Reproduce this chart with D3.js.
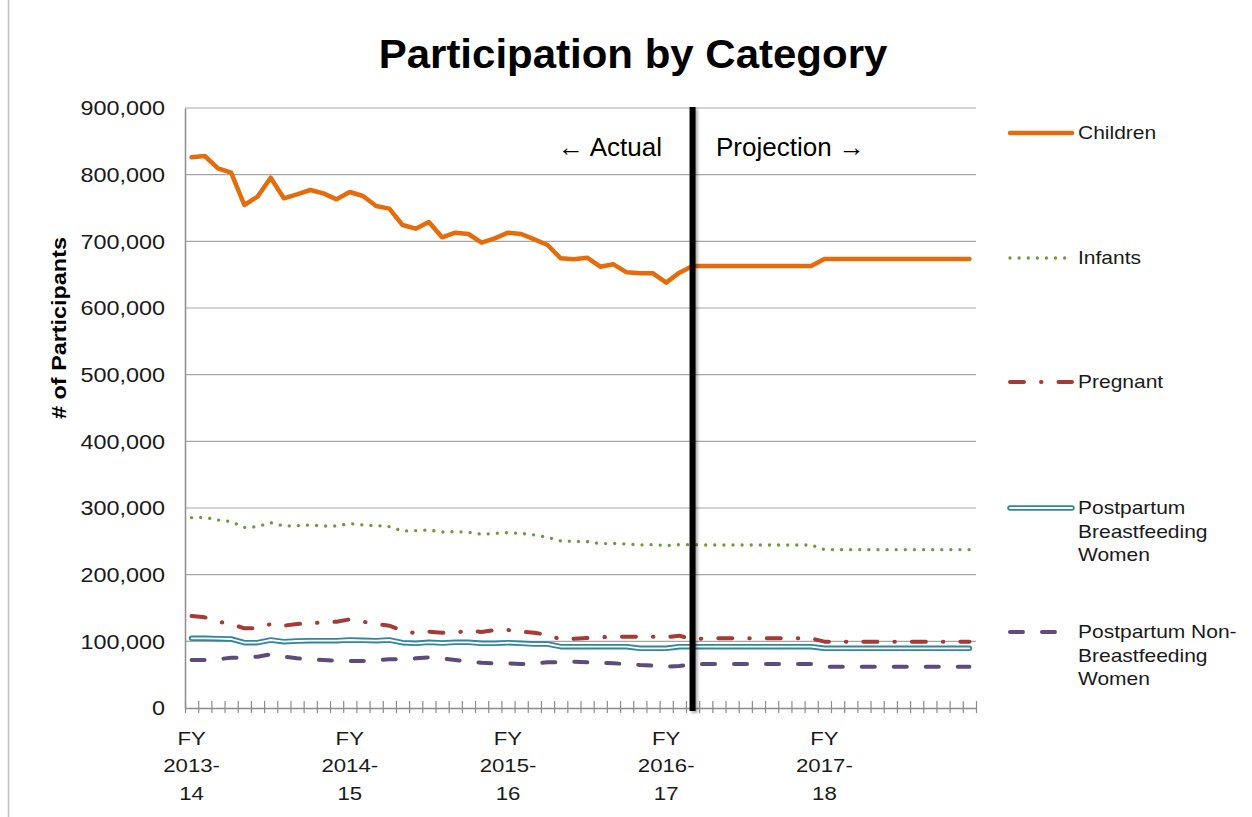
<!DOCTYPE html>
<html><head><meta charset="utf-8">
<script src="https://cdn.jsdelivr.net/npm/d3@7"></script>
<style>
body{margin:0;background:#fff}
svg{display:block}
text{font-family:"Liberation Sans",Arial,Helvetica,sans-serif}
</style>
</head><body>
<svg id="c" width="1252" height="817"></svg>
<script>
// ---------------- data ----------------
const categories = [
 "Jul-13","Aug-13","Sep-13","Oct-13","Nov-13","Dec-13","Jan-14","Feb-14","Mar-14","Apr-14","May-14","Jun-14",
 "Jul-14","Aug-14","Sep-14","Oct-14","Nov-14","Dec-14","Jan-15","Feb-15","Mar-15","Apr-15","May-15","Jun-15",
 "Jul-15","Aug-15","Sep-15","Oct-15","Nov-15","Dec-15","Jan-16","Feb-16","Mar-16","Apr-16","May-16","Jun-16",
 "Jul-16","Aug-16","Sep-16","Oct-16","Nov-16","Dec-16","Jan-17","Feb-17","Mar-17","Apr-17","May-17","Jun-17",
 "Jul-17","Aug-17","Sep-17","Oct-17","Nov-17","Dec-17","Jan-18","Feb-18","Mar-18","Apr-18","May-18","Jun-18"
];
const children = [
 826000,828000,809500,803000,754500,767000,795500,764500,770500,777000,772000,763000,
 774000,768000,753000,749000,724500,719000,729000,706000,713000,711000,698000,704500,
 713000,711000,703000,694500,674500,673000,675500,662000,665500,653500,652000,652000,
 638000,653000,663000,663000,663000,663000,663000,663000,663000,663000,663000,663000,
 673500,673500,673500,673500,673500,673500,673500,673500,673500,673500,673500,673500
];
const infants = [
 285500,286000,282000,279500,271000,272000,278000,273000,273500,274500,273000,273000,
 276500,274500,273500,272000,265500,266000,267000,264000,264500,263500,260500,262000,
 263000,262000,259500,256000,250500,250000,249500,246500,247000,246000,244500,245000,
 243500,245000,245000,244500,244500,244500,244500,244500,244500,244500,244500,244500,
 237500,237500,237500,237500,237500,237500,237500,237500,237500,237500,237500,237500
];
const pregnant = [
 138000,136000,129500,126000,119500,119500,126000,123500,126000,127000,128500,129500,
 133000,129500,126000,123500,116000,112000,114500,113000,113000,116000,114000,117000,
 117000,114500,113000,109500,103000,104000,105000,106000,107000,107000,107000,107000,
 106000,108500,103000,104500,104500,104500,104500,104500,104500,104500,104500,104500,
 99500,99500,99500,99500,99500,99500,99500,99500,99500,99500,99500,99500
];
const breastfeeding = [
 104500,104500,104000,103500,98000,98000,102000,99500,100500,101000,101000,101000,
 102000,101500,101000,102000,98000,97000,98500,97500,98500,98500,97000,97000,
 98000,97000,96000,96000,92000,92000,92000,92000,92000,92000,89500,89500,
 89500,92000,92000,92000,92000,92000,92000,92000,92000,92000,92000,92000,
 89500,89500,89500,89500,89500,89500,89500,89500,89500,89500,89500,89500
];
const nonBreastfeeding = [
 72000,72000,73000,75500,75500,77000,80500,77000,74500,73000,72000,71000,
 70500,70500,72000,73000,73000,74500,76000,74500,72000,69500,68000,67000,
 67000,66000,67000,68500,68500,69500,68500,68000,67000,66000,64500,63500,
 62000,63000,65500,66000,66000,66000,66000,66000,66000,66000,66000,66000,
 62000,62000,62000,62000,62000,62000,62000,62000,62000,62000,62000,62000
];
const seriesNames = ["Children","Infants","Pregnant","Postpartum Breastfeeding Women","Postpartum Non-Breastfeeding Women"];
const legendLines = [["Children"],["Infants"],["Pregnant"],["Postpartum","Breastfeeding","Women"],["Postpartum Non-","Breastfeeding","Women"]];
const yTickValues = [0,100000,200000,300000,400000,500000,600000,700000,800000,900000];
const fyLabelIndex = [0,12,24,36,48];
const fyLabels = [["FY","2013-","14"],["FY","2014-","15"],["FY","2015-","16"],["FY","2016-","17"],["FY","2017-","18"]];
const projectionIndex = 38;
const titleText = "Participation by Category";
const yTitle = "# of Participants";
const actualText = "\u2190 Actual";
const projectionText = "Projection \u2192";

// ---------------- layout ----------------
const svg = d3.select("#c");
const P = {left:185, right:976, top:108, bottom:708};
const SX = 1.2; // horizontal text stretch seen in reference

const x = d3.scaleBand().domain(categories).range([P.left, P.right]).padding(0);
const xEdge = d3.scaleLinear().domain([0, categories.length]).range([P.left, P.right]);
const y = d3.scaleLinear().domain([0, 900000]).range([P.bottom, P.top]);
const cx = i => x(categories[i]) + x.bandwidth()/2;

svg.append("rect").attr("width",1252).attr("height",817).attr("fill","#fff");
// outer frame (left edge)
svg.append("line").attr("x1",8.5).attr("x2",8.5).attr("y1",0).attr("y2",817).attr("stroke","#bfbfbf").attr("stroke-width",1.5);

const defs = svg.append("defs");
const f = defs.append("filter").attr("id","shadow").attr("filterUnits","userSpaceOnUse")
  .attr("x",0).attr("y",0).attr("width",1252).attr("height",817);
f.append("feDropShadow").attr("dx",2).attr("dy",2).attr("stdDeviation",1.5).attr("flood-color","#000").attr("flood-opacity",0.35);

// title
svg.append("text").attr("transform",`translate(633,68) scale(1.05,1)`)
  .attr("text-anchor","middle").attr("font-size",40).attr("font-weight","bold").attr("fill","#000").text(titleText);

// gridlines
svg.append("g").selectAll("line").data(yTickValues.filter(d=>d>0)).join("line")
  .attr("x1",P.left).attr("x2",P.right).attr("y1",d=>y(d)).attr("y2",d=>y(d))
  .attr("stroke","#a6a6a6").attr("stroke-width",1.2);

// y axis
const gy = svg.append("g").attr("transform",`translate(${P.left},0)`)
  .call(d3.axisLeft(y).tickValues(yTickValues).tickFormat(d3.format(",")).tickSize(0).tickSizeOuter(0));
gy.select(".domain").attr("stroke","#8c8c8c").attr("stroke-width",1.5);
gy.selectAll("text").attr("font-family",null).attr("font-size",19.5).attr("fill","#1a1a1a")
  .attr("x",-20/SX).attr("dy","0.35em").attr("transform",`scale(${SX},1)`).attr("text-anchor","end");

// y title
svg.append("text").attr("transform",`translate(66,328) rotate(-90) scale(${SX},1)`)
  .attr("text-anchor","middle").attr("font-size",19.5).attr("font-weight","bold").attr("fill","#000").text(yTitle);

// x axis
const gx = svg.append("g").attr("transform",`translate(0,${P.bottom})`)
  .call(d3.axisBottom(xEdge).tickValues(d3.range(categories.length+1)).tickFormat("").tickSizeOuter(0));
gx.select(".domain").attr("stroke","#8c8c8c").attr("stroke-width",1.5);
gx.selectAll(".tick line").attr("y1",-7).attr("y2",5).attr("stroke","#8c8c8c").attr("stroke-width",1.2);

// x labels
const xl = svg.append("g").selectAll("g").data(fyLabelIndex).join("g")
  .attr("transform",d=>`translate(${cx(d)},0)`);
xl.append("text").attr("transform",`scale(${SX},1)`).attr("text-anchor","middle").attr("font-size",18.5).attr("fill","#1a1a1a")
  .selectAll("tspan").data((d,i)=>fyLabels[i]).join("tspan")
  .attr("x",0).attr("y",(d,j)=>745+j*27.5).text(d=>d);

// series
const styles = [
  {data:children, color:"#E46C0A", width:4.5, dash:null},
  {data:infants, color:"#77933C", width:3.3, dash:"0.01,9.1"},
  {data:pregnant, color:"#A33B36", width:4, dash:"14,17,0.5,17"},
  {data:breastfeeding, color:"#31859C", width:5.5, dash:null, double:true},
  {data:nonBreastfeeding, color:"#604A7B", width:4, dash:"13,19"}
];
const line = d3.line().x((d,i)=>cx(i)).y(d=>y(d));
const gs = svg.append("g");
styles.forEach(s=>{
  const p = gs.append("path").attr("d",line(s.data)).attr("fill","none").attr("stroke",s.color)
    .attr("stroke-width",s.width).attr("stroke-linecap","round").attr("stroke-linejoin","round");
  if(s.dash) p.attr("stroke-dasharray",s.dash);
  if(s.double){
    gs.append("path").attr("d",line(s.data)).attr("fill","none").attr("stroke","#fff")
      .attr("stroke-width",1.8).attr("stroke-linecap","round").attr("stroke-linejoin","round");
  }
});

// projection divider
const px = cx(projectionIndex);
svg.append("rect").attr("x",px-3).attr("width",6)
  .attr("y",y(900000)-1).attr("height",y(0)-y(900000)+4).attr("fill","#000")
  .attr("filter","url(#shadow)");

// annotations
svg.append("text").attr("x",662).attr("y",156).attr("text-anchor","end").attr("font-size",26).attr("fill","#000").text(actualText);
svg.append("text").attr("x",716).attr("y",156).attr("text-anchor","start").attr("font-size",26).attr("fill","#000").text(projectionText);

// legend
const legendY = [133,258,382,508,632];
const lg = svg.append("g").selectAll("g").data(styles).join("g")
  .attr("transform",(d,i)=>`translate(0,${legendY[i]})`);
lg.each(function(s,i){
  const g = d3.select(this);
  const l = g.append("line").attr("x1",1010).attr("x2",1072).attr("y1",0).attr("y2",0)
    .attr("stroke",s.color).attr("stroke-width",s.width).attr("stroke-linecap","round");
  if(s.dash) l.attr("stroke-dasharray",s.dash);
  if(s.double) g.append("line").attr("x1",1010).attr("x2",1072).attr("y1",0).attr("y2",0)
    .attr("stroke","#fff").attr("stroke-width",1.8).attr("stroke-linecap","round");
  g.append("text").attr("transform",`translate(1078,0) scale(${SX},1)`).attr("font-size",17.5).attr("fill","#1a1a1a")
    .selectAll("tspan").data(legendLines[i]).join("tspan")
    .attr("x",0).attr("y",(d,j)=>j*23.5).attr("dy","0.35em").text(d=>d);
});
</script>
</body></html>
